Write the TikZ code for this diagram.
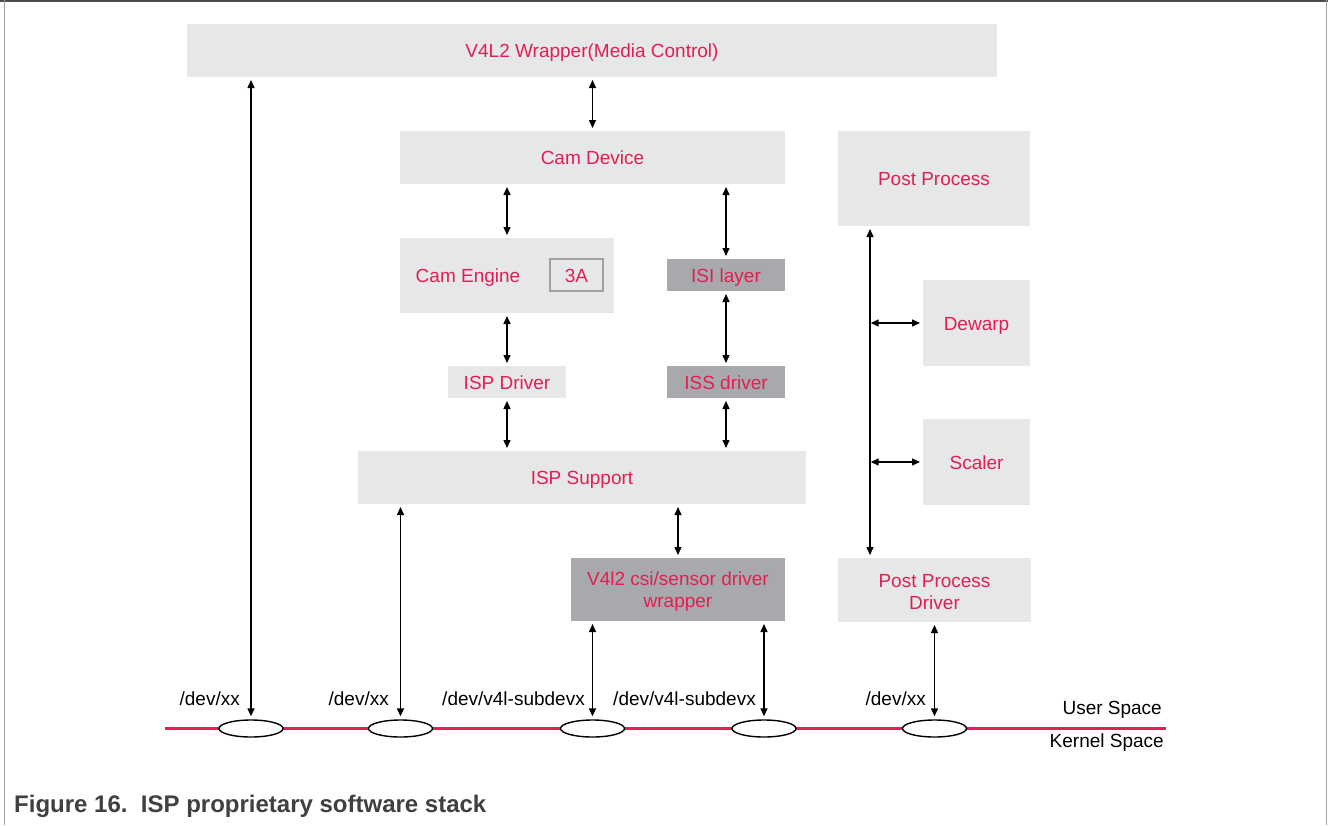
\documentclass[tikz,border=0pt]{standalone}
\usepackage{fontspec}
\setmainfont{Liberation Sans}
\usetikzlibrary{shapes.geometric,arrows.meta}
\definecolor{lgray}{RGB}{230,231,232}
\definecolor{dgray}{RGB}{167,169,172}
\definecolor{nxppink}{RGB}{228,30,82}
\definecolor{capgray}{RGB}{64,64,64}
\definecolor{framegray}{RGB}{160,160,160}
\tikzset{
  box/.style={fill=lgray, inner sep=0pt, outer sep=0pt, text=nxppink, align=center,
    font=\fontsize{19}{22}\selectfont},
  one/.style={text height=14pt, text depth=0pt},
  dbox/.style={box, fill=dgray},
  txt/.style={inner sep=0pt, text=nxppink, align=center, font=\fontsize{19}{22}\selectfont},
  arr/.style={line width=1.4pt, {Triangle[length=8pt,width=7pt]}-{Triangle[length=8pt,width=7pt]}, shorten <=3pt, shorten >=3pt},
  ell/.style={ellipse, draw=black, line width=1.4pt, fill=white, minimum width=64pt, minimum height=17pt, inner sep=0pt},
  lbl/.style={font=\fontsize{19}{22}\selectfont, text=black, inner sep=0pt},
}
\begin{document}
\begin{tikzpicture}[x=1pt,y=-1pt]
\useasboundingbox (0,0) rectangle (1328,825);
% frame
\draw[line width=2pt, color=black!70] (0,1) -- (1328,1);
\draw[line width=1.5pt, color=framegray] (4.5,0) -- (4.5,825);
\draw[line width=1.5pt, color=framegray] (1326.5,0) -- (1326.5,825);

% boxes
\node[box, one, minimum width=810pt, minimum height=53pt] (v4l2) at (592,50.5) {V4L2 Wrapper(Media Control)};
\node[box, one, minimum width=385pt, minimum height=53pt] (camdev) at (592.5,157.5) {Cam Device};
\node[box, one, minimum width=192pt, minimum height=95pt] (pp) at (934,178.5) {Post Process};
\node[box, minimum width=214pt, minimum height=75pt] (ceng) at (507,275.5) {};
\node[box, one, anchor=center] (cengt) at (468,275) {Cam Engine};
\node[box, one, draw=framegray, line width=2.5pt, minimum width=53pt, minimum height=32pt] (ta) at (576.5,275) {3A};
\node[dbox, one, minimum width=118pt, minimum height=32pt] (isi) at (726,275) {ISI layer};
\node[box, one, minimum width=118pt, minimum height=32pt] (ispdrv) at (507,382) {ISP Driver};
\node[dbox, one, minimum width=118pt, minimum height=32pt] (iss) at (726,382) {ISS driver};
\node[box, one, minimum width=448pt, minimum height=53pt] (ispsup) at (582,477.5) {ISP Support};
\node[box, one, minimum width=107pt, minimum height=86pt] (dewarp) at (976.5,323) {Dewarp};
\node[box, one, minimum width=107pt, minimum height=86pt] (scaler) at (976.5,462) {Scaler};
\node[dbox, minimum width=214pt, minimum height=63pt] (csi) at (678,589.5) {};
\node[txt] (csit) at (678,591.5) {V4l2 csi/sensor driver\\wrapper};
\node[box, minimum width=193pt, minimum height=64pt] (ppd) at (934.5,590) {};
\node[txt] (ppdt) at (934.5,592) {Post Process\\Driver};

% user/kernel line
\coordinate (lineL) at (165,728.5);
\coordinate (lineR) at (1166,728.5);
\draw[line width=2.5pt, color=nxppink] (lineL) -- (lineR);
\node[ell] (e1) at (251,728.5) {};
\node[ell] (e2) at (400.5,728.5) {};
\node[ell] (e3) at (592.5,728.5) {};
\node[ell] (e4) at (764,728.5) {};
\node[ell] (e5) at (934.5,728.5) {};

% arrows
\draw[arr] (e1.north |- v4l2.south) -- (e1.north);
\draw[arr] (camdev.north |- v4l2.south) -- (camdev.north);
\draw[arr] (ceng.north |- camdev.south) -- (ceng.north);
\draw[arr] (isi.north |- camdev.south) -- (isi.north);
\draw[arr] (ceng.south) -- (ispdrv.north);
\draw[arr] (isi.south) -- (iss.north);
\draw[arr] (ispdrv.south) -- (ispdrv.south |- ispsup.north);
\draw[arr] (iss.south) -- (iss.south |- ispsup.north);
\draw[arr] (e2.north |- ispsup.south) -- (e2.north);
\draw[arr] (csi.north |- ispsup.south) -- (csi.north);
\draw[arr] (e3.north |- csi.south) -- (e3.north);
\draw[arr] (e4.north |- csi.south) -- (e4.north);
\coordinate (bustop) at ([xshift=-64pt]pp.south);
\coordinate (busbot) at ([xshift=-64.5pt]ppd.north);
\draw[arr] (bustop) -- (busbot);
\draw[arr, shorten <=0.7pt] (dewarp.west -| bustop) -- (dewarp.west);
\draw[arr, shorten <=0.7pt] (scaler.west -| bustop) -- (scaler.west);
\draw[arr] (ppd.south) -- (e5.north);

% labels
\node[lbl, anchor=east] (l1) at (240,699) {/dev/xx};
\node[lbl, anchor=east] (l2) at (389,699) {/dev/xx};
\node[lbl, anchor=east] (l3) at (585,699) {/dev/v4l-subdevx};
\node[lbl, anchor=east] (l4) at (756,699) {/dev/v4l-subdevx};
\node[lbl, anchor=east] (l5) at (926,699) {/dev/xx};
\node[lbl, anchor=east] (us) at (1162,710) {User Space};
\node[lbl, anchor=east] (ks) at (1164,743) {Kernel Space};

% caption
\node[anchor=west, inner sep=0pt, text=capgray, font=\fontsize{24}{28}\selectfont\bfseries] (cap) at (14,806) {Figure 16.\ \ ISP proprietary software stack};
\end{tikzpicture}
\end{document}
